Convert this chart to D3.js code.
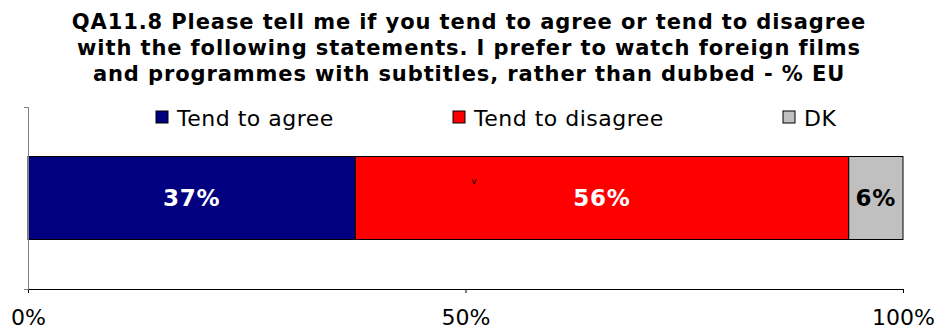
<!DOCTYPE html>
<html>
<head>
<meta charset="utf-8">
<script src="https://cdn.jsdelivr.net/npm/d3@7"></script>
<style>
  body { margin: 0; background: #fff; }
  svg { display: block; font-family: "DejaVu Sans", Verdana, sans-serif; }
</style>
</head>
<body>
<svg id="chart" width="938" height="330"></svg>
<script>
const titleLines = [
  'QA11.8 Please tell me if you tend to agree or tend to disagree',
  'with the following statements. I prefer to watch foreign films',
  'and programmes with subtitles, rather than dubbed - % EU'
]
const categories = ['EU']
const seriesNames = ['Tend to agree', 'Tend to disagree', 'DK']
const seriesValues = [37.4, 56.4, 6.2]
const seriesColors = ['#000080', '#ff0000', '#c0c0c0']
const labelColors = ['#fff', '#fff', '#000']
const tickValues = [0, 50, 100]

const svg = d3.select('#chart')

const plotLeft = 28, plotRight = 903, plotTop = 107, plotBottom = 289

const x = d3.scaleLinear().domain([0, 100]).range([plotLeft, plotRight])
const y = d3.scaleBand().domain(categories).range([plotTop, plotBottom]).padding(0.3736)

// title
svg.append('text')
  .attr('text-anchor', 'middle')
  .attr('font-weight', 'bold')
  .attr('font-size', 21)
  .attr('letter-spacing', 0.9)
  .selectAll('tspan')
  .data(titleLines)
  .join('tspan')
  .attr('x', 469)
  .attr('y', (d, i) => 29 + i * 26)
  .text(d => d)

// legend
const legendX = [156, 453, 783]
const legend = svg.append('g')
  .selectAll('g')
  .data(seriesNames)
  .join('g')
  .attr('transform', (d, i) => `translate(${legendX[i]}, 111)`)
legend.append('rect')
  .attr('width', 12).attr('height', 12)
  .attr('fill', (d, i) => seriesColors[i])
  .attr('stroke', '#000')
legend.append('text')
  .attr('x', 21).attr('y', 15)
  .attr('font-size', 22)
  .attr('letter-spacing', 0.5)
  .attr('fill', '#000')
  .text(d => d)

// stacked bar
let acc = 0
const stacked = seriesValues.map((v, i) => {
  const s = { start: acc, end: acc + v, value: v, i }
  acc += v
  return s
})

const bars = svg.append('g')
  .selectAll('g')
  .data(stacked)
  .join('g')

bars.append('rect')
  .attr('x', d => x(d.start))
  .attr('y', y('EU'))
  .attr('width', d => x(d.end) - x(d.start))
  .attr('height', y.bandwidth())
  .attr('fill', d => seriesColors[d.i])
  .attr('stroke', '#000')
  .attr('stroke-width', 1)

bars.append('text')
  .attr('x', d => (x(d.start) + x(d.end)) / 2)
  .attr('y', y('EU') + y.bandwidth() / 2 + 8)
  .attr('text-anchor', 'middle')
  .attr('font-weight', 'bold')
  .attr('font-size', 23)
  .attr('letter-spacing', 0.8)
  .attr('fill', d => labelColors[d.i])
  .text(d => Math.round(d.value) + '%')

// stray mark seen in the original
svg.append('text')
  .attr('x', 474).attr('y', 184)
  .attr('font-size', 9)
  .attr('text-anchor', 'middle')
  .text('v')

// axes
const xAxis = svg.append('g')
  .attr('transform', `translate(0, ${plotBottom})`)
  .call(d3.axisBottom(x).tickValues(tickValues).tickSize(4).tickPadding(16)
    .tickFormat(d => d + '%'))
xAxis.select('.domain').attr('stroke', '#000')
xAxis.selectAll('text')
  .attr('font-size', 22)
  .attr('font-family', '"DejaVu Sans", Verdana, sans-serif')
  .attr('fill', '#000')

const yAxis = svg.append('g')
  .attr('transform', `translate(${plotLeft}, 0)`)
  .call(d3.axisLeft(d3.scaleLinear().domain([0, 1]).range([plotBottom, plotTop]))
    .tickValues([0, 1]).tickSize(4).tickFormat(''))
yAxis.select('.domain').attr('stroke', '#808080')
yAxis.selectAll('line').attr('stroke', '#808080')
</script>
</body>
</html>
